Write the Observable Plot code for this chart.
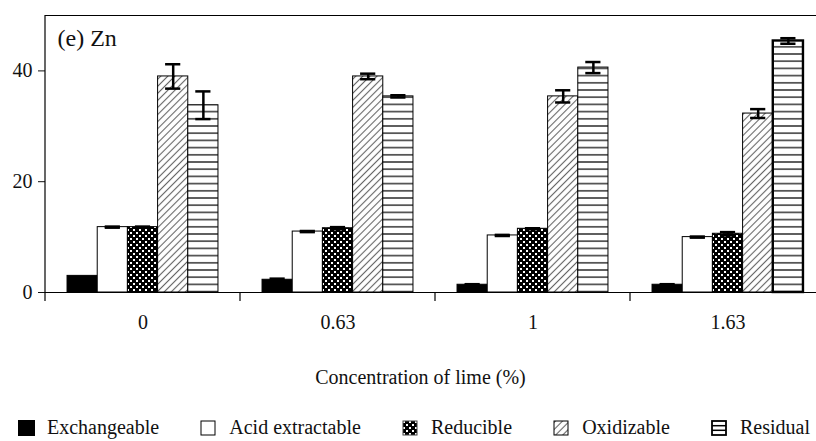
<!DOCTYPE html>
<html><head><meta charset="utf-8">
<script src="https://cdn.jsdelivr.net/npm/d3@7"></script>
<script src="https://cdn.jsdelivr.net/npm/@observablehq/plot@0.6"></script>
<style>
html,body{margin:0;padding:0;background:#fff;}
#chart{width:816px;height:441px;overflow:hidden;position:relative;font-family:"Liberation Serif","Times New Roman",serif;color:#111;}
#chart > svg{display:block;}
.legend{display:flex;justify-content:space-between;align-items:center;box-sizing:border-box;width:816px;padding:14px 6px 0 18px;height:41px;font-size:20px;}
.item{display:flex;align-items:center;}
.item svg{margin-right:12px;display:block;}
</style></head><body><div id="chart"></div>
<script>
const concentrations = ["0", "0.63", "1", "1.63"];
const fractions = ["Exchangeable", "Acid extractable", "Reducible", "Oxidizable", "Residual"];
const exchangeable    = [3.0, 2.3, 1.4, 1.4];
const acidExtractable = [11.8, 11.0, 10.3, 10.0];
const reducible       = [11.8, 11.6, 11.5, 10.6];
const oxidizable      = [39.0, 39.0, 35.4, 32.3];
const residual        = [33.8, 35.4, 40.6, 45.4];
const exchangeableErr    = [0.0, 0.2, 0.1, 0.1];
const acidExtractableErr = [0.1, 0.1, 0.1, 0.1];
const reducibleErr       = [0.1, 0.2, 0.1, 0.3];
const oxidizableErr      = [2.2, 0.5, 1.1, 0.8];
const residualErr        = [2.5, 0.2, 1.0, 0.5];
const yTicks = [0, 20, 40];
const xLabel = "Concentration of lime (%)";
const panelLabel = "(e) Zn";

const seriesValues = [exchangeable, acidExtractable, reducible, oxidizable, residual];
const seriesErrors = [exchangeableErr, acidExtractableErr, reducibleErr, oxidizableErr, residualErr];
const fills = {
  "Exchangeable": "#000",
  "Acid extractable": "#fff",
  "Reducible": "url(#pat-red)",
  "Oxidizable": "url(#pat-oxi)",
  "Residual": "url(#pat-res)"
};

const table = [];
concentrations.forEach((c, i) => {
  fractions.forEach((f, j) => {
    table.push({conc: c, fraction: f, value: seriesValues[j][i], err: seriesErrors[j][i]});
  });
});
const errTable = table.filter(d => d.err > 0);

const W = 816, H = 400, mT = 15, mB = 108, mL = 45;
const FONT = "'Liberation Serif', 'Times New Roman', serif";

const chart = Plot.plot({
  width: W, height: H,
  marginLeft: mL, marginTop: mT, marginBottom: mB, marginRight: 0,
  style: {fontFamily: FONT, fontSize: "20px", color: "#111", background: "#fff"},
  fx: {domain: concentrations, range: [45, 825], padding: 0, round: false, axis: "bottom",
       tickSize: 0, tickPadding: 22, label: null},
  x: {domain: fractions, paddingInner: 0, paddingOuter: 0.73, round: false, axis: null},
  y: {domain: [0, 50], ticks: yTicks, tickSize: 7, tickPadding: 6, label: null},
  color: {type: "identity"},
  marks: [
    Plot.barY(table, {fx: "conc", x: "fraction", y: "value", fill: d => fills[d.fraction], stroke: "#000",
      strokeWidth: d => (d.conc === "1.63" && d.fraction === "Residual") ? 2.4 : 1}),
    Plot.ruleY([0], {stroke: "#000", strokeWidth: 1.2}),
    Plot.ruleY([50], {stroke: "#000", strokeWidth: 1.2}),
    Plot.ruleX(errTable, {fx: "conc", x: "fraction", y1: d => d.value - d.err, y2: d => d.value + d.err, stroke: "#000", strokeWidth: 2.5}),
    Plot.tickY(errTable, {fx: "conc", x: "fraction", y: d => d.value - d.err, stroke: "#000", strokeWidth: 2.5, insetLeft: 7.5, insetRight: 7.5}),
    Plot.tickY(errTable, {fx: "conc", x: "fraction", y: d => d.value + d.err, stroke: "#000", strokeWidth: 2.5, insetLeft: 7.5, insetRight: 7.5}),
    Plot.text([panelLabel], {fx: [concentrations[0]], frameAnchor: "top-left", dx: 12, dy: 13, lineAnchor: "top", textAnchor: "start", fontSize: 24, fill: "#111"})
  ]
});

const svg = d3.select(chart);
svg.insert("defs", ":first-child").html(`
<pattern id="pat-red" patternUnits="userSpaceOnUse" width="6" height="6">
  <rect width="6" height="6" fill="#000"/>
  <rect x="1" y="1" width="2" height="2" fill="#fff"/>
  <rect x="4" y="4" width="2" height="2" fill="#fff"/>
</pattern>
<pattern id="pat-oxi" patternUnits="userSpaceOnUse" width="5" height="5" patternTransform="rotate(45)">
  <rect width="5" height="5" fill="#fff"/>
  <line x1="2.5" y1="0" x2="2.5" y2="5" stroke="#666" stroke-width="1.1"/>
</pattern>
<pattern id="pat-res" patternUnits="userSpaceOnUse" width="8" height="7.2">
  <rect width="8" height="7.2" fill="#fff"/>
  <line x1="0" y1="3.6" x2="8" y2="3.6" stroke="#000" stroke-width="1.2"/>
</pattern>`);

// axis line and boundary ticks between concentration groups
const fxS = chart.scale("fx");
const step = fxS.step || fxS.bandwidth;
const x0 = fxS.range[0];
const yBase = H - mB, yTop = mT;
const g = svg.append("g").attr("stroke", "#000");
g.append("line").attr("x1", x0).attr("x2", x0).attr("y1", yTop).attr("y2", yBase + 9).attr("stroke-width", 1.2);
concentrations.forEach((c, i) => {
  if (i === 0) return;
  const xb = x0 + i * step;
  g.append("line").attr("x1", xb).attr("x2", xb).attr("y1", yBase).attr("y2", yBase + 9).attr("stroke-width", 1.2);
});
// x-axis title centred on the visible frame
svg.append("text")
  .attr("x", (x0 + W) / 2 - 10).attr("y", yBase + 92)
  .attr("text-anchor", "middle").attr("fill", "#111")
  .attr("font-family", FONT).attr("font-size", 20)
  .text(xLabel);

const root = document.getElementById("chart");
root.appendChild(chart);

// legend
const legend = document.createElement("div");
legend.className = "legend";
fractions.forEach(f => {
  const item = document.createElement("div");
  item.className = "item";
  const s = d3.create("svg").attr("width", 17).attr("height", 16);
  if (f === "Exchangeable") {
    s.append("rect").attr("x", 0).attr("y", 0).attr("width", 17).attr("height", 16).attr("fill", "#000");
  } else if (f === "Residual") {
    s.append("rect").attr("x", 1).attr("y", 1).attr("width", 14).attr("height", 14).attr("fill", "#fff").attr("stroke", "#000").attr("stroke-width", 1.8);
    s.append("line").attr("x1", 1).attr("x2", 15).attr("y1", 5.7).attr("y2", 5.7).attr("stroke", "#000").attr("stroke-width", 1.5);
    s.append("line").attr("x1", 1).attr("x2", 15).attr("y1", 10.3).attr("y2", 10.3).attr("stroke", "#000").attr("stroke-width", 1.5);
  } else {
    s.append("rect").attr("x", 1).attr("y", 1).attr("width", 14).attr("height", 14).attr("fill", fills[f]).attr("stroke", f === "Reducible" ? "#444" : "#000").attr("stroke-width", 1);
  }
  item.appendChild(s.node());
  const t = document.createElement("span");
  t.textContent = f;
  item.appendChild(t);
  legend.appendChild(item);
});
root.appendChild(legend);
</script>
</body></html>
